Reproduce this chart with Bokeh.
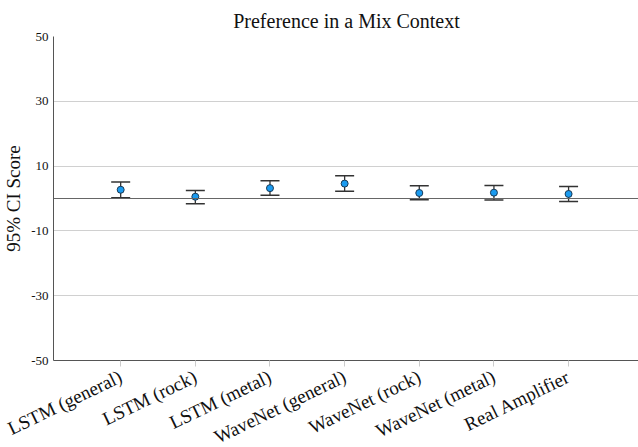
from bokeh.plotting import figure
from bokeh.models import Range1d, FixedTicker, Whisker, ColumnDataSource, Span
from bokeh.embed import file_html
from bokeh.resources import INLINE

categories = ["LSTM (general)", "LSTM (rock)", "LSTM (metal)", "WaveNet (general)",
              "WaveNet (rock)", "WaveNet (metal)", "Real Amplifier"]
scores = [2.7, 0.55, 3.2, 4.6, 1.7, 1.8, 1.4]
upper = [5.1, 2.5, 5.5, 7.0, 3.95, 4.0, 3.7]
lower = [0.25, -1.6, 1.0, 2.2, -0.4, -0.5, -0.9]
y_ticks = [-50, -30, -10, 10, 30, 50]
y_tick_labels = ["-50", "-30", "-10", "10", "30", "50"]

FONT = "Liberation Serif"

xs = list(range(len(categories)))
src = ColumnDataSource(dict(x=xs, y=scores, upper=upper, lower=lower))

p = figure(frame_width=586, frame_height=324, output_backend="svg", toolbar_location=None,
           x_range=Range1d(-0.9, 6.95), y_range=Range1d(-50, 50),
           min_border_left=44, min_border_right=0, min_border_top=36, min_border_bottom=80)

p.title.text = "Preference in a Mix Context"
p.title.align = "center"
p.title.text_font = FONT
p.title.text_font_size = "20px"
p.title.text_font_style = "normal"
p.title.text_color = "#111111"
p.title.standoff = 10

p.outline_line_color = None

p.xaxis.ticker = FixedTicker(ticks=xs)
p.xaxis.major_label_overrides = {i: c for i, c in enumerate(categories)}
p.xaxis.major_label_orientation = 0.45
p.xaxis.major_label_text_font = FONT
p.xaxis.major_label_text_font_size = "19px"
p.xaxis.major_label_text_color = "#111111"
p.xaxis.axis_line_color = "#555555"
p.xaxis.major_tick_line_color = "#cccccc"
p.xaxis.major_tick_out = 6
p.xaxis.major_tick_in = 0
p.xaxis.minor_tick_line_color = None
p.xaxis.major_label_standoff = 9

p.yaxis.ticker = FixedTicker(ticks=y_ticks)
p.yaxis.major_label_overrides = dict(zip(y_ticks, y_tick_labels))
p.yaxis.axis_label = "95% CI Score"
p.yaxis.axis_label_text_font = FONT
p.yaxis.axis_label_text_font_size = "19px"
p.yaxis.axis_label_text_font_style = "normal"
p.yaxis.axis_label_text_color = "#111111"
p.yaxis.axis_label_standoff = 4
p.yaxis.major_label_text_font = FONT
p.yaxis.major_label_text_font_size = "13px"
p.yaxis.major_label_text_color = "#111111"
p.yaxis.axis_line_color = "#555555"
p.yaxis.major_tick_line_color = None
p.yaxis.major_tick_out = 0
p.yaxis.major_tick_in = 0
p.yaxis.minor_tick_line_color = None
p.yaxis.major_label_standoff = 5

p.xgrid.grid_line_color = None
p.ygrid.ticker = FixedTicker(ticks=y_ticks)
p.ygrid.grid_line_color = "#d0d0d0"
p.ygrid.grid_line_width = 1

p.add_layout(Span(location=0, dimension="width", line_color="#666666", line_width=1.2))

w = Whisker(base="x", upper="upper", lower="lower", source=src,
            line_color="#333333", line_width=1.3)
w.upper_head.size = 19
w.lower_head.size = 19
w.upper_head.line_color = "#333333"
w.lower_head.line_color = "#333333"
w.upper_head.line_width = 1.5
w.lower_head.line_width = 1.5
p.add_layout(w)

p.scatter("x", "y", source=src, size=7, fill_color="#1a9bf0", line_color="#1a3a55", line_width=1)

open("out.html", "w").write(file_html(p, INLINE))
